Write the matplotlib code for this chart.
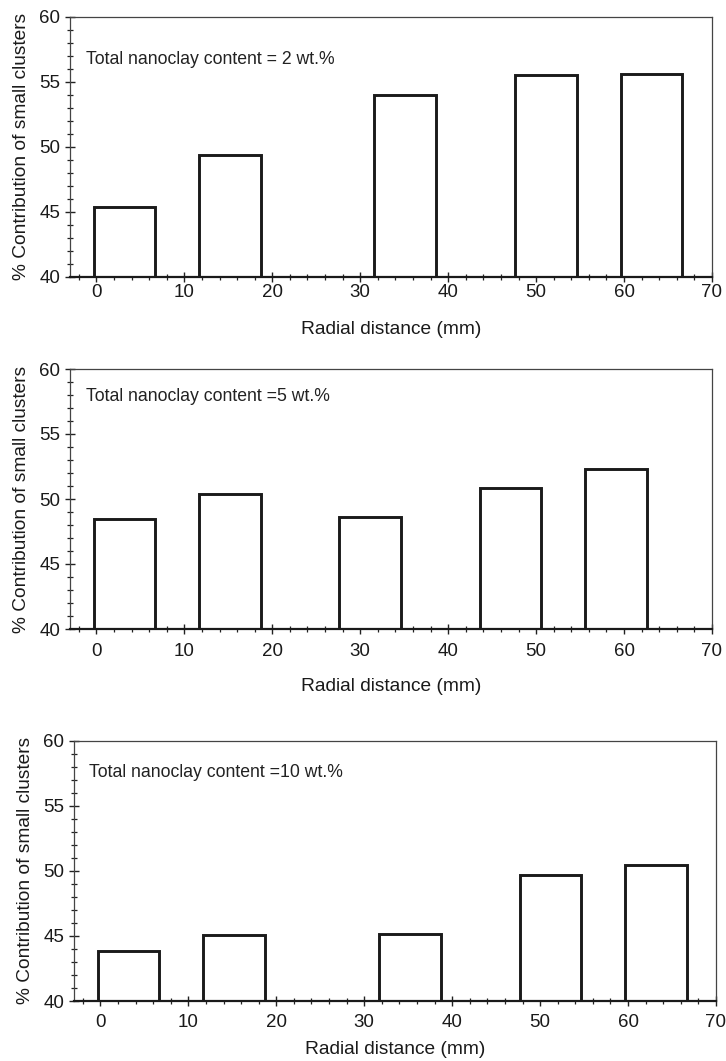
import numpy as np
import matplotlib.pyplot as plt
from matplotlib.ticker import MultipleLocator

plt.rcParams['font.family'] = ['Liberation Sans', 'DejaVu Sans']

# bar left edges (mm) and heights (%)
left_2 = [-0.3, 11.7, 31.6, 47.6, 59.6]
vals_2 = [45.35, 49.35, 54.0, 55.55, 55.6]

left_5 = [-0.3, 11.7, 27.6, 43.6, 55.6]
vals_5 = [48.5, 50.4, 48.6, 50.85, 52.3]

left_10 = [-0.3, 11.7, 31.7, 47.7, 59.7]
vals_10 = [43.85, 45.1, 45.15, 49.7, 50.45]

bar_width = 7.0
labels = ['Total nanoclay content = 2 wt.%',
          'Total nanoclay content =5 wt.%',
          'Total nanoclay content =10 wt.%']

fig = plt.figure(figsize=(7.26, 10.61), dpi=100)

rects = [
    [70 / 726, 1 - 276.7 / 1061, 642 / 726, 260 / 1061],
    [70 / 726, 1 - 629 / 1061, 642 / 726, 260 / 1061],
    [74 / 726, 1 - 1001 / 1061, 642 / 726, 260.3 / 1061],
]
tick_pads = [2, 6.5, 6]
xlabel_y = [-0.205, -0.222, -0.188]
text_pos = [(-1.2, 56.7), (-1.2, 57.9), (-1.3, 57.55)]

data = [(left_2, vals_2), (left_5, vals_5), (left_10, vals_10)]

for i, (lefts, vals) in enumerate(data):
    ax = fig.add_axes(rects[i])
    heights = np.array(vals) - 40
    ax.bar(lefts, heights, width=bar_width, bottom=40, align='edge',
           facecolor='white', edgecolor='#1a1a1a', linewidth=2.1, zorder=3)

    ax.set_xlim(-3, 70)
    ax.set_ylim(40, 60)
    ax.xaxis.set_major_locator(MultipleLocator(10))
    ax.xaxis.set_minor_locator(MultipleLocator(2))
    ax.yaxis.set_major_locator(MultipleLocator(5))
    ax.yaxis.set_minor_locator(MultipleLocator(1))

    ax.tick_params(axis='both', which='both', direction='inout',
                   top=False, right=False, color='#222222', labelsize=13.5,
                   labelcolor='#1a1a1a')
    ax.tick_params(axis='both', which='major', length=7, width=1.0)
    ax.tick_params(axis='both', which='minor', length=4, width=0.9)
    ax.tick_params(axis='x', which='major', pad=tick_pads[i])
    ax.tick_params(axis='y', which='major', pad=3.5)

    for side in ['top', 'right', 'left']:
        ax.spines[side].set_color('#444444')
        ax.spines[side].set_linewidth(0.9)
    ax.spines['bottom'].set_color('#1a1a1a')
    ax.spines['bottom'].set_linewidth(1.6)
    ax.spines['bottom'].set_zorder(4)

    ax.set_xlabel('Radial distance (mm)', fontsize=13.8, color='#1a1a1a')
    ax.xaxis.label.set_va('center')
    ax.xaxis.set_label_coords(0.5, xlabel_y[i])
    ax.set_ylabel('% Contribution of small clusters', fontsize=13.8,
                  color='#1a1a1a')
    ax.yaxis.label.set_va('center')
    ax.yaxis.set_label_coords(-0.076, 0.5)

    tx, ty = text_pos[i]
    ax.text(tx, ty, labels[i], fontsize=12.7, va='center', ha='left',
            color='#222222')

fig.savefig('out.png', dpi=100)
